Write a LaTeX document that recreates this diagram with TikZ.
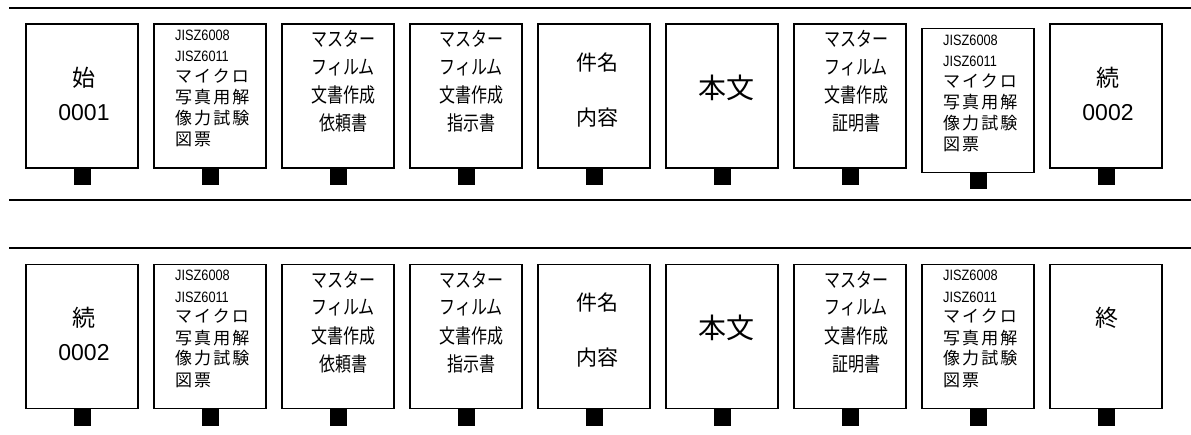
\documentclass[tikz,border=0pt]{standalone}
\usepackage{fontspec}
\setmainfont{Liberation Sans}
\newfontfamily\jp{Noto Sans CJK JP}
\newfontfamily\jpc[FakeStretch=0.8]{Noto Sans CJK JP}
\newfontfamily\jpl[LetterSpace=12]{Noto Sans CJK JP}
\newfontfamily\lsc[FakeStretch=0.85]{Liberation Sans}
\newcommand\jisfont{\lsc\fontsize{15pt}{21pt}\selectfont}
\newcommand\jpsfont{\jpl\fontsize{17pt}{21pt}\selectfont}
\newcommand\mstfont{\jpc\fontsize{20pt}{28pt}\selectfont}
\begin{document}
\begin{tikzpicture}[x=1pt,y=-1pt,
  card/.style={draw, line width=1.6pt, minimum width=112pt, minimum height=144pt, inner sep=0pt, outer sep=0pt},
  tab/.style={fill=black, minimum width=17pt, minimum height=17pt, inner sep=0pt, outer sep=0pt, anchor=north},
  rule/.style={line width=1.5pt},
  txt/.style={inner sep=0pt, anchor=base, align=center},
  jis/.style={inner sep=0pt, anchor=base west, align=left, font=\fontsize{14pt}{21pt}\selectfont},
  bigtxt/.style={txt, font=\fontsize{23pt}{34pt}\selectfont},
  msttxt/.style={txt, font=\mstfont},
  kentxt/.style={txt, font=\jp\fontsize{21pt}{55pt}\selectfont},
  hontxt/.style={txt, font=\jp\fontsize{28pt}{34pt}\selectfont}
]
\useasboundingbox (0,0) rectangle (1191,435);
% rules
\coordinate (r1a) at (9,8);   \coordinate (r1b) at (1191,8);
\coordinate (r2a) at (9,200); \coordinate (r2b) at (1191,200);
\coordinate (r3a) at (9,248); \coordinate (r3b) at (1191,248);
\draw[rule] (r1a) -- (r1b);
\draw[rule] (r2a) -- (r2b);
\draw[rule] (r3a) -- (r3b);

% ---------- row 1 ----------
\node[card] (a1) at (82,96) {};
\node[card] (a2) at (210,96) {};
\node[card] (a3) at (338,96) {};
\node[card] (a4) at (466,96) {};
\node[card] (a5) at (594,96) {};
\node[card] (a6) at (722,96) {};
\node[card] (a7) at (850,96) {};
\node[card] (a8) at (978,100.5) {};
\node[card] (a9) at (1106,96) {};
\foreach \i in {1,...,9} {\node[tab] (ta\i) at (a\i.south) {};}

% anchor=base is the baseline of the LAST line
\node[bigtxt] (a1t) at (84,120.5) {{\jp 始}\\0001};
\node[jis] (a2t) at (175,146) {\jisfont JISZ6008\\\jisfont JISZ6011\\\jpsfont マイクロ\\\jpsfont 写真用解\\\jpsfont 像力試験\\\jpsfont 図票};
\node[msttxt] (a3t) at (343,131) {\mstfont マスター\\\mstfont フィルム\\\mstfont 文書作成\\\mstfont 依頼書};
\node[msttxt] (a4t) at (471,131) {\mstfont マスター\\\mstfont フィルム\\\mstfont 文書作成\\\mstfont 指示書};
\node[kentxt] (a5t) at (597,126) {件名\\\jp\fontsize{21pt}{55pt}\selectfont 内容};
\node[hontxt] (a6t) at (726,99) {本文};
\node[msttxt] (a7t) at (856,131) {\mstfont マスター\\\mstfont フィルム\\\mstfont 文書作成\\\mstfont 証明書};
\node[jis] (a8t) at (943,150.5) {\jisfont JISZ6008\\\jisfont JISZ6011\\\jpsfont マイクロ\\\jpsfont 写真用解\\\jpsfont 像力試験\\\jpsfont 図票};
\node[bigtxt] (a9t) at (1108,120.5) {{\jp 続}\\0002};

% ---------- row 2 ----------
\foreach \i/\x in {1/82,2/210,3/338,4/466,5/594,6/722,7/850,8/978,9/1106} {
  \node[card] (b\i) at (\x,336.5) {};
  \node[tab] (tb\i) at (b\i.south) {};
}
\node[bigtxt] (b1t) at (84,360.5) {{\jp 続}\\0002};
\node[jis] (b2t) at (175,386) {\jisfont JISZ6008\\\jisfont JISZ6011\\\jpsfont マイクロ\\\jpsfont 写真用解\\\jpsfont 像力試験\\\jpsfont 図票};
\node[msttxt] (b3t) at (343,371) {\mstfont マスター\\\mstfont フィルム\\\mstfont 文書作成\\\mstfont 依頼書};
\node[msttxt] (b4t) at (471,371) {\mstfont マスター\\\mstfont フィルム\\\mstfont 文書作成\\\mstfont 指示書};
\node[kentxt] (b5t) at (597,366) {件名\\\jp\fontsize{21pt}{55pt}\selectfont 内容};
\node[hontxt] (b6t) at (726,339) {本文};
\node[msttxt] (b7t) at (856,371) {\mstfont マスター\\\mstfont フィルム\\\mstfont 文書作成\\\mstfont 証明書};
\node[jis] (b8t) at (943,386) {\jisfont JISZ6008\\\jisfont JISZ6011\\\jpsfont マイクロ\\\jpsfont 写真用解\\\jpsfont 像力試験\\\jpsfont 図票};
\node[bigtxt] (b9t) at (1107,326.5) {\jp 終};
\end{tikzpicture}
\end{document}
